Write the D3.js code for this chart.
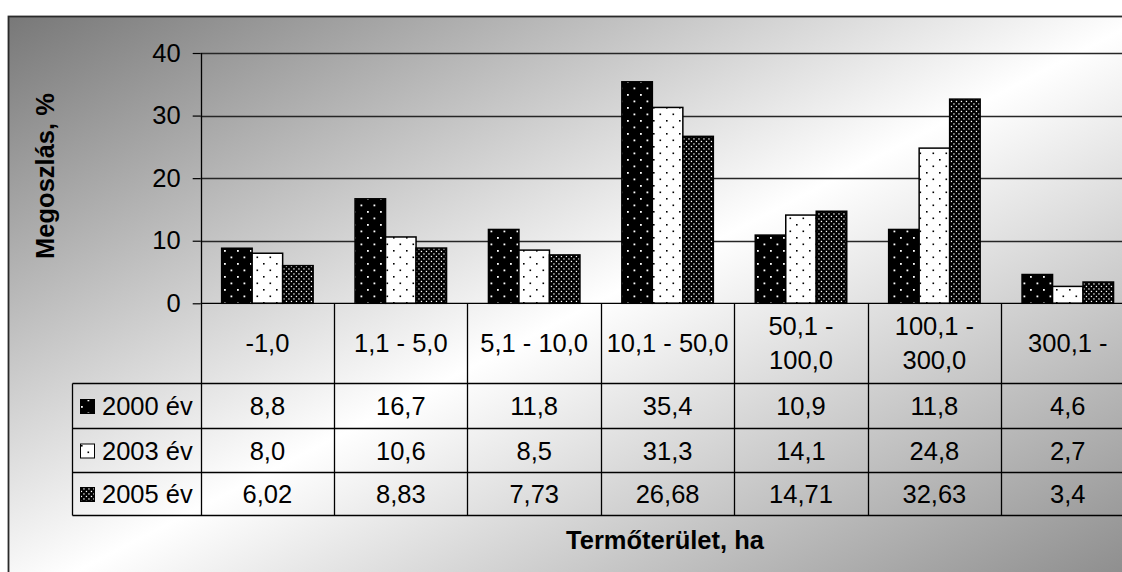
<!DOCTYPE html>
<html>
<head>
<meta charset="utf-8">
<script src="https://cdn.jsdelivr.net/npm/d3@7"></script>
<style>
  html, body { margin: 0; padding: 0; background: #fff; }
  svg { display: block; }
  text { font-family: "Liberation Sans", Arial, sans-serif; fill: #000; }
</style>
</head>
<body>
<svg id="chart" width="1122" height="572"></svg>
<script>
// ---- data ----
const categories = ["-1,0", "1,1 - 5,0", "5,1 - 10,0", "10,1 - 50,0", "50,1 - 100,0", "100,1 - 300,0", "300,1 -"];
const seriesNames = ["2000 év", "2003 év", "2005 év"];
const values2000 = [8.8, 16.7, 11.8, 35.4, 10.9, 11.8, 4.6];
const values2003 = [8.0, 10.6, 8.5, 31.3, 14.1, 24.8, 2.7];
const values2005 = [6.02, 8.83, 7.73, 26.68, 14.71, 32.63, 3.4];
const tableLabels2000 = ["8,8", "16,7", "11,8", "35,4", "10,9", "11,8", "4,6"];
const tableLabels2003 = ["8,0", "10,6", "8,5", "31,3", "14,1", "24,8", "2,7"];
const tableLabels2005 = ["6,02", "8,83", "7,73", "26,68", "14,71", "32,63", "3,4"];
const yTicks = [0, 10, 20, 30, 40];
const yTitle = "Megoszlás, %";
const xTitle = "Termőterület, ha";

const seriesValues = [values2000, values2003, values2005];
const seriesLabels = [tableLabels2000, tableLabels2003, tableLabels2005];
const patternIds = ["p2000", "p2003", "p2005"];

// ---- layout ----
const svg = d3.select("#chart");
const plotLeft = 200.7, colW = 133.4;
const y0px = 303.3, y40px = 53;
const tableRows = [383.5, 428.5, 472.5, 515.5];
const legendLeft = 72.5;
const FS = 25.5;
const BASE = 9; // baseline offset for vertical centering

const defs = svg.append("defs");
// background gradient
const grad = defs.append("linearGradient").attr("id", "bg")
  .attr("x1", 0).attr("y1", 0).attr("x2", 1).attr("y2", 1);
grad.append("stop").attr("offset", "0%").attr("stop-color", "#787878");
grad.append("stop").attr("offset", "50%").attr("stop-color", "#ffffff");
grad.append("stop").attr("offset", "100%").attr("stop-color", "#858585");

// patterns
function dotPattern(id, size, bg, fg, dots, r) {
  const p = defs.append("pattern").attr("id", id).attr("patternUnits", "userSpaceOnUse")
    .attr("width", size).attr("height", size);
  p.append("rect").attr("width", size).attr("height", size).attr("fill", bg);
  dots.forEach(d => p.append("rect").attr("x", d[0]).attr("y", d[1]).attr("width", r).attr("height", r).attr("fill", fg));
}
dotPattern("p2000", 13, "#000", "#fff", [[3, 3], [9.5, 9.5]], 1.8);
dotPattern("p2003", 13, "#fff", "#000", [[3, 3], [9.5, 9.5]], 1.6);
dotPattern("p2005", 5, "#000", "#fff", [[0.8, 0.8], [3.3, 3.3]], 1.3);

// frame with background
svg.append("rect").attr("x", 8.5).attr("y", 16.5).attr("width", 1140).attr("height", 590)
  .attr("fill", "url(#bg)").attr("stroke", "#2a2a2a").attr("stroke-width", 1.8);

// scales
const x = d3.scaleBand().domain(categories).range([plotLeft, plotLeft + colW * categories.length]).padding(0);
const xs = d3.scaleBand().domain(seriesNames).range([0, colW]).paddingInner(0).paddingOuter(0.687);
const y = d3.scaleLinear().domain([0, 40]).range([y0px, y40px]);

// gridlines
svg.append("g").selectAll("line").data(yTicks.filter(t => t > 0)).join("line")
  .attr("x1", plotLeft).attr("x2", 1122).attr("y1", d => Math.round(y(d)) + 0.5).attr("y2", d => Math.round(y(d)) + 0.5)
  .attr("stroke", "#262626").attr("stroke-width", 1.3);

// y axis ticks + labels
const yAxis = d3.axisLeft(y).tickValues(yTicks).tickSize(8).tickPadding(12).tickFormat(d3.format("d"));
const ga = svg.append("g").attr("transform", `translate(${plotLeft},0)`).call(yAxis);
ga.select(".domain").remove();
ga.selectAll(".tick line").attr("stroke", "#000").attr("stroke-width", 1.2);
ga.selectAll(".tick text").attr("font-size", FS).attr("font-family", "Liberation Sans, Arial, sans-serif").attr("fill", "#000");

// bars
seriesValues.forEach((vals, si) => {
  svg.append("g").selectAll("rect").data(vals).join("rect")
    .attr("x", (d, i) => x(categories[i]) + xs(seriesNames[si]))
    .attr("width", xs.bandwidth())
    .attr("y", d => y(d))
    .attr("height", d => y(0) - y(d))
    .attr("fill", `url(#${patternIds[si]})`)
    .attr("stroke", "#000").attr("stroke-width", 1.5);
});

// table lines
const tableRight = 1122;
const tl = svg.append("g").attr("stroke", "#000").attr("stroke-width", 1.3);
tl.append("line").attr("x1", plotLeft).attr("x2", tableRight).attr("y1", y(0)).attr("y2", y(0));
tableRows.forEach(r => tl.append("line").attr("x1", legendLeft).attr("x2", tableRight).attr("y1", r).attr("y2", r));
d3.range(categories.length).forEach(i => {
  const xx = Math.round(x(categories[i])) + 0.5;
  tl.append("line").attr("x1", xx).attr("x2", xx).attr("y1", i === 0 ? y40px : y(0)).attr("y2", tableRows[3]);
});
tl.append("line").attr("x1", legendLeft).attr("x2", legendLeft).attr("y1", tableRows[0]).attr("y2", tableRows[3]);

// header labels (wrap if too wide)
const hdr = svg.append("g");
categories.forEach((c, i) => {
  const cx = x(c) + colW / 2;
  const t = hdr.append("text").attr("x", cx).attr("text-anchor", "middle").attr("font-size", FS).text(c);
  const w = t.node().getComputedTextLength();
  const midY = (y(0) + tableRows[0]) / 2;
  if (w > colW - 4 && c.indexOf(" - ") > 0) {
    const parts = c.split(" - ");
    t.text(null);
    t.append("tspan").attr("x", cx).attr("y", midY - 17 + BASE).text(parts[0] + " -");
    t.append("tspan").attr("x", cx).attr("y", midY + 17 + BASE).text(parts[1]);
  } else {
    t.attr("y", midY + BASE);
  }
});

// table rows: legend + values
seriesNames.forEach((s, si) => {
  const top = tableRows[si], bot = tableRows[si + 1];
  const mid = (top + bot) / 2;
  svg.append("rect").attr("x", 80.5).attr("y", mid - 6.5).attr("width", 14).attr("height", 14)
    .attr("fill", `url(#${patternIds[si]})`).attr("stroke", "#000").attr("stroke-width", 1);
  svg.append("text").attr("x", 102).attr("y", mid + BASE).attr("font-size", FS).text(s);
  svg.append("g").selectAll("text").data(seriesLabels[si]).join("text")
    .attr("x", (d, i) => x(categories[i]) + colW / 2)
    .attr("y", mid + BASE).attr("text-anchor", "middle").attr("font-size", FS).text(d => d);
});

// titles
svg.append("text").attr("x", 665).attr("y", 549).attr("text-anchor", "middle")
  .attr("font-size", FS).attr("font-weight", "bold").text(xTitle);
svg.append("text").attr("transform", "translate(54,176) rotate(-90)").attr("text-anchor", "middle")
  .attr("font-size", FS).attr("font-weight", "bold").text(yTitle);
</script>
</body>
</html>
